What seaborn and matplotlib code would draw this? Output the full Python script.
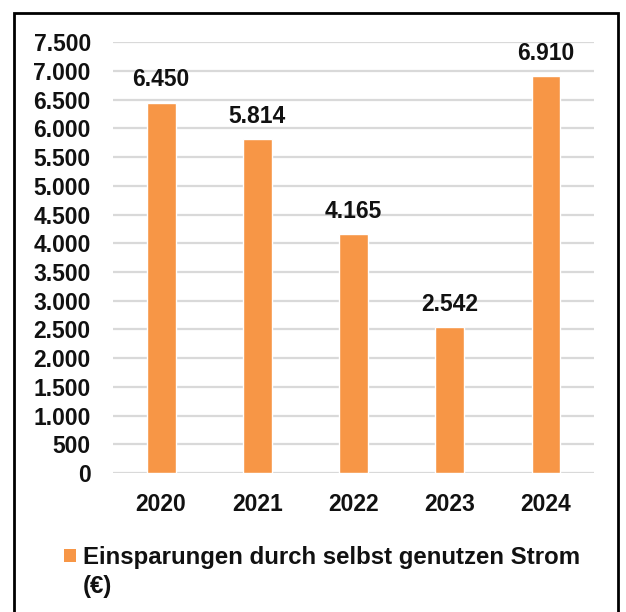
import matplotlib
matplotlib.use("Agg")
import matplotlib.pyplot as plt
import matplotlib.ticker as mticker
from matplotlib.patches import Rectangle
import seaborn as sns
import pandas as pd

years = ["2020", "2021", "2022", "2023", "2024"]
savings = [6450, 5814, 4165, 2542, 6910]
series_name = "Einsparungen durch selbst genutzen Strom (€)"
y_ticks = list(range(0, 7501, 500))

df = pd.DataFrame({"Jahr": years, "Wert": savings, "Serie": series_name})

sns.set_theme(style="white")
plt.rcParams["font.family"] = ["Liberation Sans", "DejaVu Sans"]
plt.rcParams["font.weight"] = "bold"

BAR_COLOR = "#F79646"
GRID_COLOR = "#D9D9D9"
TEXT_COLOR = "#111111"
FS = 16.5


def de_thousands(v, _pos=None):
    return f"{int(round(v)):,}".replace(",", ".")


fig = plt.figure(figsize=(6.26, 6.12), dpi=100)
ax = fig.add_axes([0.1805, 0.227, 0.7685, 0.704])

sns.barplot(data=df, x="Jahr", y="Wert", hue="Serie", palette=[BAR_COLOR],
            width=0.3, ax=ax, legend=False, saturation=1)

ax.set_ylim(0, 7500)
ax.set_yticks(y_ticks)
ax.yaxis.set_major_formatter(mticker.FuncFormatter(de_thousands))
ax.set_xlim(-0.5, len(years) - 0.5)
ax.grid(axis="y", color=GRID_COLOR, linewidth=1.6)
ax.set_axisbelow(True)
for s in ax.spines.values():
    s.set_visible(False)
ax.set_xlabel("")
ax.set_ylabel("")
ax.tick_params(axis="y", labelsize=FS, pad=16, length=0)
ax.tick_params(axis="x", labelsize=FS, pad=14, length=0)
for lab in ax.get_xticklabels() + ax.get_yticklabels():
    lab.set_fontweight("bold")
    lab.set_color(TEXT_COLOR)

for container in ax.containers:
    ax.bar_label(container, labels=[de_thousands(v) for v in savings],
                 padding=8, fontsize=FS, fontweight="bold", color=TEXT_COLOR)

# legend below the plot, wrapped over two lines
fig.patches.append(Rectangle((64 / 626, 1 - 562 / 612), 12 / 626, 13 / 612,
                             transform=fig.transFigure, facecolor=BAR_COLOR,
                             edgecolor="none"))
fig.text(83 / 626, 1 - 572 / 612, "Einsparungen durch selbst genutzen Strom\n(€)",
         fontsize=17.3, fontweight="bold", color=TEXT_COLOR, va="center", ha="left",
         linespacing=1.3)

# outer chart frame
fig.patches.append(Rectangle((14 / 626, -0.02), 604 / 626, 1 - 13 / 612 + 0.02,
                             transform=fig.transFigure, fill=False,
                             edgecolor="black", linewidth=2))

fig.savefig("out.png", dpi=100)
